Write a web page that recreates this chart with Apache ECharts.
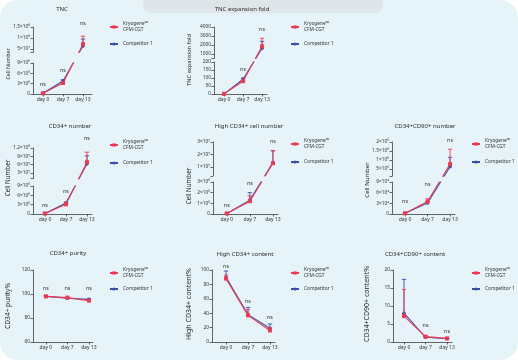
<!DOCTYPE html>
<html><head><meta charset="utf-8">
<script src="https://cdn.jsdelivr.net/npm/echarts@6/dist/echarts.min.js"></script>
<style>html,body{margin:0;padding:0;background:#fff}#c{width:518px;height:360px}</style>
</head><body><div id="c"></div><script>
const days = ['day 0', 'day 7', 'day 13'];
const nameK = 'Kryogene™\nCFM-CGT';
const nameC = 'Competitor 1';

// Panel 1: TNC
const tncKryo = [2e5, 3.2e6, 7.2e7];
const tncKryoErr = [1e5, 3e5, 3.6e7];
const tncComp = [2e5, 3.8e6, 6.4e7];
const tncCompErr = [1e5, 3e5, 3.1e7];
const tncNs = [2.9e6, 6.7e6, 1.68e8];
const tncUpperTicks = [5e7, 1e8, 1.5e8];
const tncUpperLabels = ['5×10⁷', '1×10⁸', '1.5×10⁸'];
const tncLowerTicks = [0, 3e6, 6e6, 9e6];
const tncLowerLabels = ['0', '3×10⁶', '6×10⁶', '9×10⁶'];

// Panel 2: TNC expansion fold
const foldKryo = [1, 80, 1850];
const foldKryoErr = [0, 6, 900];
const foldComp = [1, 92, 1650];
const foldCompErr = [0, 8, 750];
const foldNs = [null, 156, 3780];
const foldUpperTicks = [1000, 2000, 3000, 4000];
const foldUpperLabels = ['1000', '2000', '3000', '4000'];
const foldLowerTicks = [0, 50, 100, 150, 200];
const foldLowerLabels = ['0', '50', '100', '150', '200'];

// Panel 3: CD34+ number
const cd34Kryo = [1.5e5, 3.1e6, 6.9e7];
const cd34KryoErr = [1e5, 3e5, 3.6e7];
const cd34Comp = [1.5e5, 3.5e6, 6.3e7];
const cd34CompErr = [1e5, 3e5, 2.9e7];
const cd34Ns = [2.9e6, 7.1e6, 1.56e8];
const cd34UpperTicks = [3e7, 6e7, 9e7, 1.2e8];
const cd34UpperLabels = ['3×10⁷', '6×10⁷', '9×10⁷', '1.2×10⁸'];
const cd34LowerTicks = [0, 3e6, 6e6, 9e6];
const cd34LowerLabels = ['0', '3×10⁶', '6×10⁶', '9×10⁶'];

// Panel 4: High CD34+ cell number
const highKryo = [5e4, 1.2e6, 1.3e7];
const highKryoErr = [2e4, 5e5, 1e7];
const highComp = [5e4, 1.3e6, 1.35e7];
const highCompErr = [2e4, 7e5, 9.5e6];
const highNs = [8.4e5, 2.9e6, 3.08e7];
const highUpperTicks = [1e7, 2e7, 3e7];
const highUpperLabels = ['1×10⁷', '2×10⁷', '3×10⁷'];
const highLowerTicks = [0, 1e6, 2e6, 3e6];
const highLowerLabels = ['0', '1×10⁶', '2×10⁶', '3×10⁶'];

// Panel 5: CD34+CD90+ number
const c90Kryo = [2e3, 3.5e4, 7.7e5];
const c90KryoErr = [1e3, 8e3, 8.3e5];
const c90Comp = [2e3, 3.1e4, 6.3e5];
const c90CompErr = [1e3, 4e3, 5.2e5];
const c90Ns = [3.66e4, 8.4e4, 2.06e6];
const c90UpperTicks = [5e5, 1e6, 1.5e6, 2e6];
const c90UpperLabels = ['5×10⁵', '1×10⁶', '1.5×10⁶', '2×10⁶'];
const c90LowerTicks = [0, 3e4, 6e4, 9e4];
const c90LowerLabels = ['0', '3×10⁴', '6×10⁴', '9×10⁴'];

// Panel 6: CD34+ purity
const purKryo = [98, 97, 94.5];
const purKryoErr = [0.5, 0.5, 0.6];
const purComp = [98, 96.5, 95.5];
const purCompErr = [0.5, 0.5, 0.5];
const purNs = [105, 105, 105];
const purTicks = [60, 80, 100, 120];
const purLabels = ['60', '80', '100', '120'];

// Panel 7: High CD34+ content
const hcKryo = [88, 37, 16];
const hcKryoErr = [5, 8, 4];
const hcComp = [90, 38, 19];
const hcCompErr = [8.6, 10, 6];
const hcNs = [104.6, 55.6, 34.3];
const hcTicks = [0, 20, 40, 60, 80, 100];
const hcLabels = ['0', '20', '40', '60', '80', '100'];

// Panel 8: CD34+CD90+ content
const ccKryo = [7.2, 1.5, 1.0];
const ccKryoErr = [7.4, 0.2, 0.1];
const ccComp = [8.0, 1.3, 0.9];
const ccCompErr = [9.4, 0.2, 0.1];
const ccNs = [null, 4.7, 2.8];
const ccTicks = [0, 5, 10, 15, 20];
const ccLabels = ['0', '5', '10', '15', '20'];

const RED = '#ec3a52', BLUE = '#3b4ea6', AX = '#555', TXT = '#333';
const FONT = 'Noto Sans';

const panels = [
  {title:'TNC', tx:62, ty:9, yName:'Cell Number', nfs:5.3, nx:8, ny:64, left:33, right:92, xmin:-0.5, xmax:2.45,
   kryo:tncKryo, kryoErr:tncKryoErr, comp:tncComp, compErr:tncCompErr, ns:tncNs, lx:113, lyK:27, lyC:44,
   segs:[{top:27, bottom:52.3, min:3.5e7, max:1.5e8, ticks:tncUpperTicks, labels:tncUpperLabels},
         {top:63, bottom:94, min:0, max:9e6, ticks:tncLowerTicks, labels:tncLowerLabels}]},
  {title:'TNC expansion fold', tx:242, ty:9, yName:'TNC expansion fold', nfs:5.7, nx:189, ny:60, left:214, right:267, xmin:-0.53, xmax:2.26,
   kryo:foldKryo, kryoErr:foldKryoErr, comp:foldComp, compErr:foldCompErr, ns:foldNs, lx:294, lyK:27, lyC:44,
   segs:[{top:27, bottom:58.5, min:500, max:4000, ticks:foldUpperTicks, labels:foldUpperLabels},
         {top:62, bottom:94, min:0, max:200, ticks:foldLowerTicks, labels:foldLowerLabels}]},
  {title:'CD34+ number', tx:70, ty:126, yName:'Cell Number', nfs:6.2, nx:8, ny:178, left:33, right:92, xmin:-0.57, xmax:2.24,
   kryo:cd34Kryo, kryoErr:cd34KryoErr, comp:cd34Comp, compErr:cd34CompErr, ns:cd34Ns, lx:113, lyK:145, lyC:163,
   segs:[{top:148, bottom:178.6, min:1e7, max:1.2e8, ticks:cd34UpperTicks, labels:cd34UpperLabels},
         {top:186, bottom:214, min:0, max:9e6, ticks:cd34LowerTicks, labels:cd34LowerLabels}]},
  {title:'High CD34+ cell number', tx:249, ty:126, yName:'Cell Number', nfs:6.2, nx:189, ny:186, left:213, right:278, xmin:-0.6, xmax:2.22,
   kryo:highKryo, kryoErr:highKryoErr, comp:highComp, compErr:highCompErr, ns:highNs, lx:294, lyK:144, lyC:162,
   segs:[{top:142, bottom:175.75, min:3e6, max:3e7, ticks:highUpperTicks, labels:highUpperLabels},
         {top:182, bottom:214, min:0, max:3e6, ticks:highLowerTicks, labels:highLowerLabels}]},
  {title:'CD34+CD90+ number', tx:425, ty:126, yName:'Cell Number', nfs:6.0, nx:367, ny:180, left:392, right:455, xmin:-0.58, xmax:2.22,
   kryo:c90Kryo, kryoErr:c90KryoErr, comp:c90Comp, compErr:c90CompErr, ns:c90Ns, lx:475, lyK:144, lyC:162,
   segs:[{top:142, bottom:176.2, min:1e5, max:2e6, ticks:c90UpperTicks, labels:c90UpperLabels},
         {top:182, bottom:214, min:0, max:9e4, ticks:c90LowerTicks, labels:c90LowerLabels}]},
  {title:'CD34+ purity', tx:68, ty:253, yName:'CD34+ purity%', nfs:6.6, nx:8, ny:306, left:33, right:93, xmin:-0.6, xmax:2.19,
   kryo:purKryo, kryoErr:purKryoErr, comp:purComp, compErr:purCompErr, ns:purNs, lx:113, lyK:273, lyC:289,
   segs:[{top:270, bottom:342, min:60, max:120, ticks:purTicks, labels:purLabels}]},
  {title:'High CD34+ content', tx:245, ty:254, yName:'High CD34+ content%', nfs:7.0, nx:189, ny:304, left:212, right:275, xmin:-0.64, xmax:2.23,
   kryo:hcKryo, kryoErr:hcKryoErr, comp:hcComp, compErr:hcCompErr, ns:hcNs, lx:294, lyK:273, lyC:289,
   segs:[{top:270, bottom:342, min:0, max:100, ticks:hcTicks, labels:hcLabels}]},
  {title:'CD34+CD90+ content', tx:415, ty:254, yName:'CD34+CD90+ content%', nfs:7.0, nx:367, ny:304, left:393, right:452, xmin:-0.51, xmax:2.23,
   kryo:ccKryo, kryoErr:ccKryoErr, comp:ccComp, compErr:ccCompErr, ns:ccNs, lx:475, lyK:273, lyC:289,
   segs:[{top:270, bottom:342, min:0, max:20, ticks:ccTicks, labels:ccLabels}]}
];

// Broken-axis geometry: where a value sits along the whole (split) axis,
// expressed back in a given segment's own value scale so that a line joining
// points in different segments keeps one straight path across the break.
function segPix(s, v) { return s.bottom - (v - s.min) / (s.max - s.min) * (s.bottom - s.top); }
function brokenValue(p, s, v) {
  if (p.segs.length < 2) return v;
  const up = p.segs[0], lo = p.segs[1];
  let y;
  if (v <= lo.max) y = segPix(lo, v);
  else if (v >= up.min) y = segPix(up, v);
  else y = lo.top + (v - lo.max) / (up.min - lo.max) * (up.bottom - lo.top);
  return s.min + (s.bottom - y) / (s.bottom - s.top) * (s.max - s.min);
}

const option = {animation:false, grid:[], xAxis:[], yAxis:[], series:[], legend:[], graphic:[]};

option.graphic.push({type:'rect', z:-10, shape:{x:0, y:0, width:518, height:360, r:18}, style:{fill:'#e6f3f8'}});
option.graphic.push({type:'rect', z:-9, shape:{x:143, y:-12, width:240, height:25, r:8}, style:{fill:'#dfe6ea'}});

function lookup(ticks, labels, v) {
  let bi = 0, bd = Infinity;
  ticks.forEach((t, i) => { const d = Math.abs(t - v); if (d < bd) { bd = d; bi = i; } });
  return bd <= Math.abs(v) * 1e-6 + 1e-9 ? labels[bi] : '';
}

function errRender(color) {
  return function (params, api) {
    const x = api.value(0), v = api.value(1), e = api.value(2);
    const cs = params.coordSys;
    const p0 = api.coord([x, v]), p1 = api.coord([x, v + e]);
    const lo = cs.y, hi = cs.y + cs.height;
    const cl = y => Math.min(Math.max(y, lo), hi);
    const y0 = cl(p0[1]), y1 = cl(p1[1]);
    const ch = [];
    if (Math.abs(y0 - y1) > 0.01) ch.push({type:'line', shape:{x1:p0[0], y1:y0, x2:p0[0], y2:y1}, style:{stroke:color, lineWidth:0.9}});
    if (p1[1] >= lo - 0.01 && p1[1] <= hi + 0.01 && e > 0) ch.push({type:'line', shape:{x1:p0[0]-2.2, y1:p1[1], x2:p0[0]+2.2, y2:p1[1]}, style:{stroke:color, lineWidth:0.9}});
    return {type:'group', children:ch};
  };
}

panels.forEach(p => {
  const n = p.segs.length;
  p.segs.forEach((s, si) => {
    const gi = option.grid.length;
    const isTop = si === 0, isBottom = si === n - 1;
    option.grid.push({left:p.left, top:s.top, width:p.right - p.left, height:s.bottom - s.top});
    option.xAxis.push({
      type:'value', gridIndex:gi, min:p.xmin, max:p.xmax, show:isBottom,
      axisLine:{show:true, onZero:false, lineStyle:{color:AX, width:0.9}},
      axisTick:{show:true, customValues:[0,1,2], length:2.5, lineStyle:{color:AX, width:0.9}},
      axisLabel:{customValues:[0,1,2], formatter:v => days[Math.round(v)], fontSize:5, color:TXT, margin:3.5, fontFamily:FONT},
      splitLine:{show:false}
    });
    const tickVals = n > 1 && isTop ? [s.min].concat(s.ticks) : s.ticks;
    option.yAxis.push({
      type:'value', gridIndex:gi, min:s.min, max:s.max,
      axisLine:{show:true, onZero:false, lineStyle:{color:AX, width:0.9}},
      axisTick:{show:true, customValues:tickVals, length:2.5, lineStyle:{color:AX, width:0.9}},
      axisLabel:{customValues:s.ticks, formatter:v => lookup(s.ticks, s.labels, v), fontSize:4.8, color:TXT, margin:3, fontFamily:FONT},
      splitLine:{show:false}
    });
    option.series.push({type:'line', name:nameC, xAxisIndex:gi, yAxisIndex:gi, data:p.comp.map((v,i)=>[i, brokenValue(p, s, v)]),
      symbol:'circle', symbolSize:3.6, itemStyle:{color:BLUE}, lineStyle:{color:BLUE, width:1.1}, z:3});
    option.series.push({type:'custom', name:'errC', xAxisIndex:gi, yAxisIndex:gi, data:p.comp.map((v,i)=>[i,v,p.compErr[i]]),
      renderItem:errRender(BLUE), z:3, clip:false});
    option.series.push({type:'line', name:nameK, xAxisIndex:gi, yAxisIndex:gi, data:p.kryo.map((v,i)=>[i, brokenValue(p, s, v)]),
      symbol:'rect', symbolSize:4, itemStyle:{color:RED}, lineStyle:{color:RED, width:1.1}, z:4});
    option.series.push({type:'custom', name:'errK', xAxisIndex:gi, yAxisIndex:gi, data:p.kryo.map((v,i)=>[i,v,p.kryoErr[i]]),
      renderItem:errRender(RED), z:4, clip:false});
    const nsData = p.ns.map((v,i)=>[i,v]).filter(d => d[1] != null && d[1] >= s.min && (isTop || d[1] <= s.max));
    option.series.push({type:'custom', name:'ns', xAxisIndex:gi, yAxisIndex:gi, data:nsData, clip:false, z:5,
      renderItem:(params, api) => {
        const c = api.coord([api.value(0), api.value(1)]);
        return {type:'text', x:c[0], y:c[1], style:{text:'ns', fill:TXT, font:'5.4px "Noto Sans"', align:'center', verticalAlign:'middle'}};
      }});
  });
  option.legend.push({data:[nameK], orient:'vertical', left:p.lx - 4, top:p.lyK - 9, padding:0, itemWidth:8, itemHeight:4, selectedMode:false,
    textStyle:{fontSize:4.8, lineHeight:6, color:TXT, fontFamily:FONT, padding:[6,0,0,0]}});
  option.legend.push({data:[nameC], orient:'vertical', left:p.lx - 4, top:p.lyC - 3, padding:0, itemWidth:8, itemHeight:4, selectedMode:false,
    textStyle:{fontSize:4.8, lineHeight:6, color:TXT, fontFamily:FONT}});
  option.graphic.push({type:'text', x:p.tx, y:p.ty, style:{text:p.title, fill:'#2b2b2b', font:'6px "Noto Sans"', align:'center', verticalAlign:'middle'}});
  option.graphic.push({type:'text', x:p.nx, y:p.ny, rotation:Math.PI/2, style:{text:p.yName, fill:'#2b2b2b', font:p.nfs + 'px "Noto Sans"', align:'center', verticalAlign:'middle'}});
});

const chart = echarts.init(document.getElementById('c'), null, {renderer:'canvas'});
chart.setOption(option);
</script></body></html>
